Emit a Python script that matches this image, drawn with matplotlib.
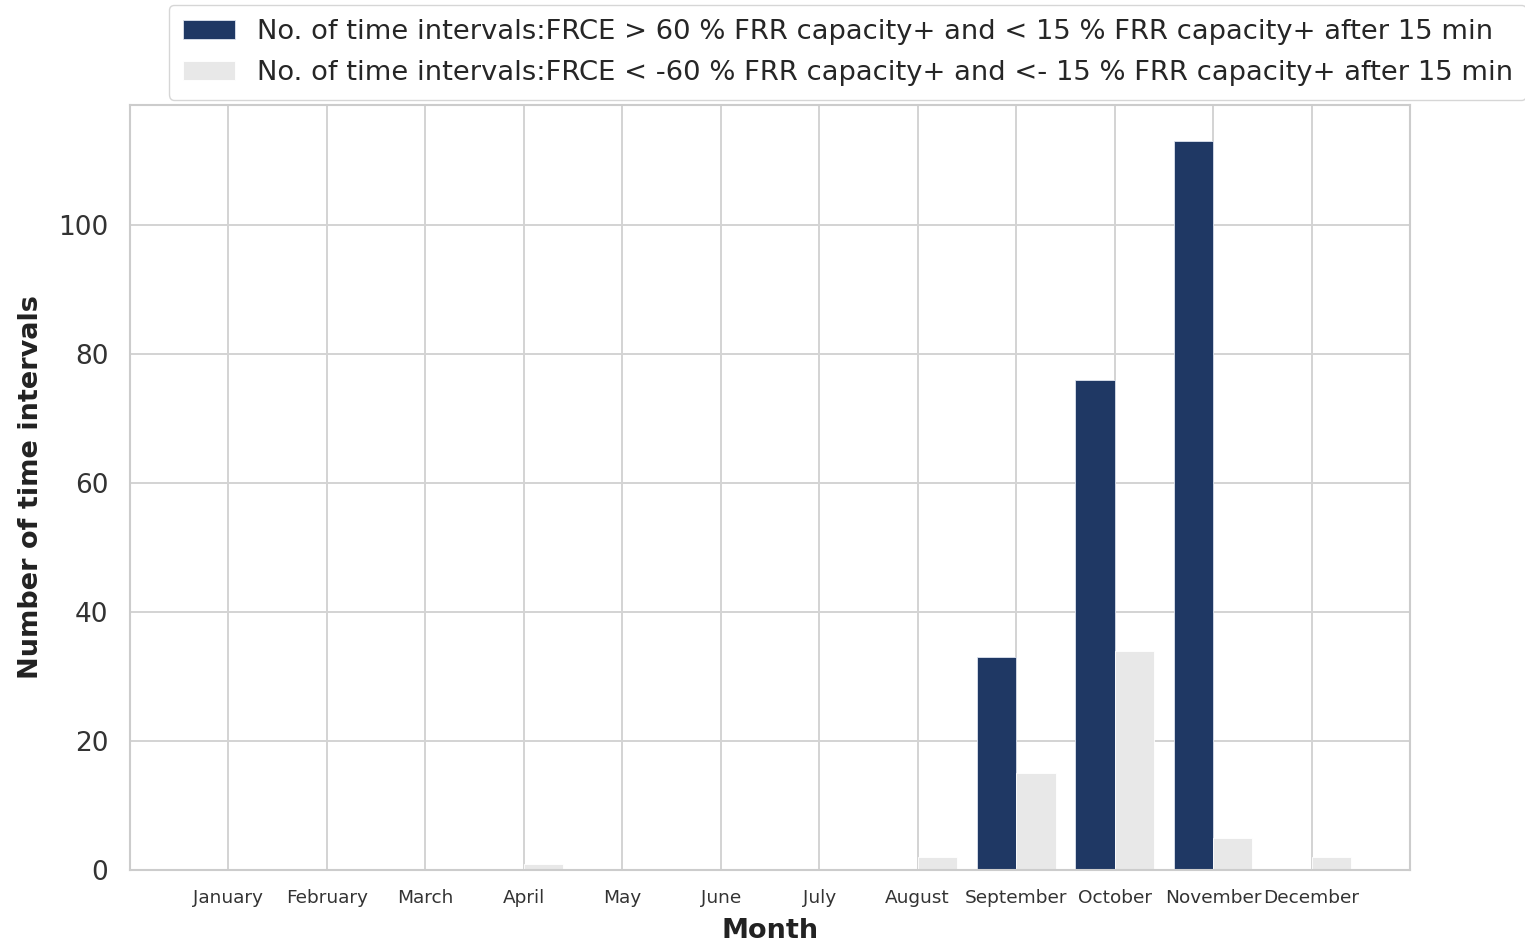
import matplotlib
matplotlib.use("Agg")
import matplotlib.pyplot as plt
import numpy as np
import seaborn as sns

sns.set_style("whitegrid")
plt.rcParams['font.family'] = ['DejaVu Sans']

months = ["January", "February", "March", "April", "May", "June", "July",
          "August", "September", "October", "November", "December"]
series_pos = [0, 0, 0, 0, 0, 0, 0, 0, 33, 76, 113, 0]
series_neg = [0, 0, 0, 1, 0, 0, 0, 2, 15, 34, 5, 2]
label_pos = "No. of time intervals:FRCE > 60 % FRR capacity+ and < 15 % FRR capacity+ after 15 min"
label_neg = "No. of time intervals:FRCE < -60 % FRR capacity+ and <- 15 % FRR capacity+ after 15 min"

fig = plt.figure(figsize=(15.25, 9.44), dpi=100)
ax = fig.add_axes([130/1525, 1-870/944, 1280/1525, 765/944])

x = np.arange(len(months))
w = 0.4
ax.bar(x - w/2, series_pos, w, color="#1f3864", edgecolor="#dde3ee", linewidth=0.6, label=label_pos)
ax.bar(x + w/2, series_neg, w, color="#e8e8e8", edgecolor="white", linewidth=0.6, label=label_neg)

ax.set_xlim(-1, 12)
ax.set_ylim(0, max(series_pos) * 1.05)
ax.set_xticks(x)
ax.set_xticklabels(months, fontsize=13.3, color="#333333")
ax.tick_params(axis='y', labelsize=19, colors="#333333", pad=12)
ax.tick_params(axis='x', pad=10)
ax.set_yticks([0, 20, 40, 60, 80, 100])
ax.set_xlabel("Month", fontsize=19.5, fontweight="bold", color="#222222", labelpad=8)
ax.set_ylabel("Number of time intervals", fontsize=19.5, fontweight="bold", color="#222222", labelpad=10)
for s in ax.spines.values():
    s.set_color("#cccccc")
    s.set_linewidth(1.5)
ax.grid(True, color="#d3d3d3", linewidth=1.4)
ax.set_axisbelow(True)

fig.legend(loc="upper left", bbox_to_anchor=(169/1525, 1-5/944), fontsize=19.7,
           frameon=True, handlelength=1.9, borderpad=0.5, labelspacing=0.57,
           borderaxespad=0)

fig.savefig("out.png", dpi=100)
